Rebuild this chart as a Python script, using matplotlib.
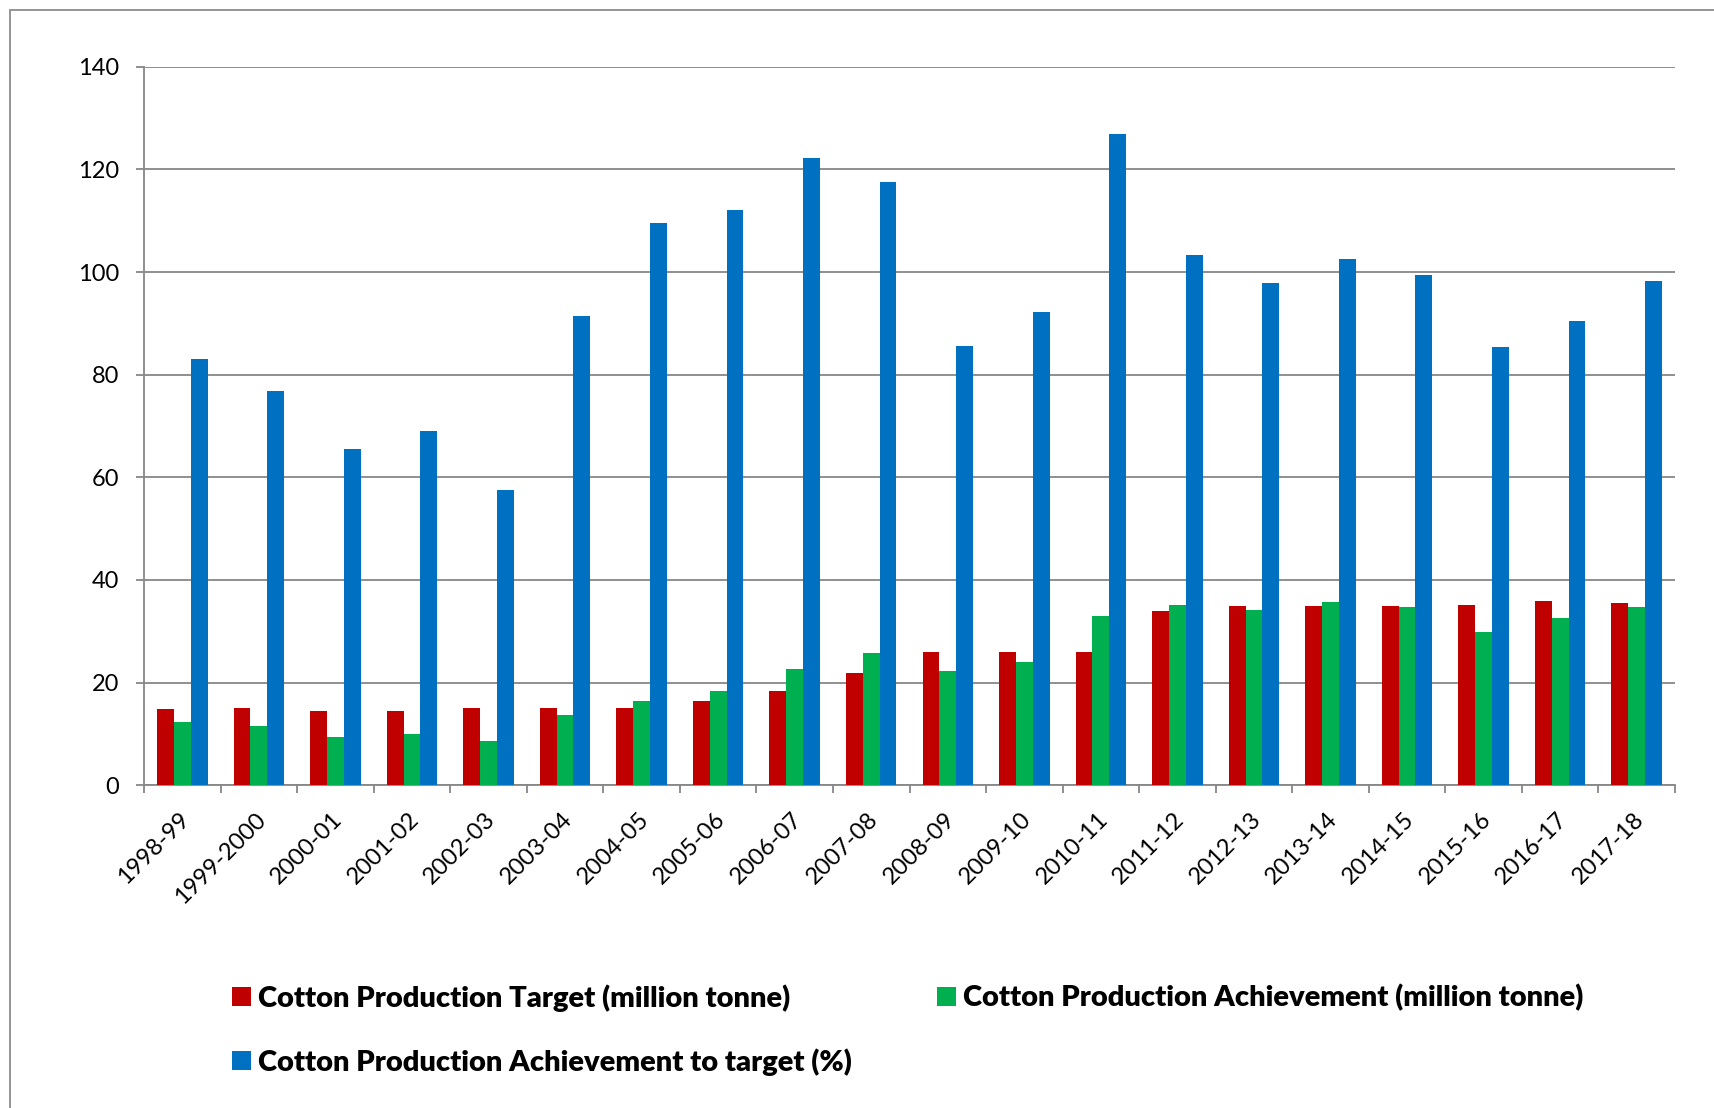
import numpy as np
import matplotlib
matplotlib.use("Agg")
import matplotlib.pyplot as plt
import matplotlib.transforms as mtransforms
from matplotlib.patches import Rectangle

plt.rcParams['font.family'] = ['Lato', 'DejaVu Sans']

seasons = ['1998-99', '1999-2000', '2000-01', '2001-02', '2002-03', '2003-04',
           '2004-05', '2005-06', '2006-07', '2007-08', '2008-09', '2009-10',
           '2010-11', '2011-12', '2012-13', '2013-14', '2014-15', '2015-16',
           '2016-17', '2017-18']
target = [14.8, 15.0, 14.5, 14.5, 15.0, 15.0, 15.0, 16.4, 18.4, 21.9,
          25.9, 25.9, 25.9, 34.0, 34.9, 34.9, 34.9, 35.1, 36.0, 35.5]
achievement = [12.3, 11.6, 9.5, 10.0, 8.6, 13.7, 16.4, 18.4, 22.6, 25.8,
               22.2, 24.0, 32.9, 35.1, 34.1, 35.8, 34.7, 29.9, 32.5, 34.8]
achieved_pct = [83.0, 76.8, 65.6, 69.0, 57.5, 91.5, 109.5, 112.1, 122.3, 117.6,
                85.6, 92.3, 126.9, 103.4, 97.8, 102.5, 99.4, 85.3, 90.5, 98.2]
labels = ['Cotton Production Target (million tonne)',
          'Cotton Production Achievement (million tonne)',
          'Cotton Production Achievement to target (%)']
colors = ['#C00000', '#00B050', '#0070C0']

W, H = 1715, 1108
fig = plt.figure(figsize=(W / 100, H / 100), dpi=100)

# outer chart frame
fig.patches.append(Rectangle((10 / W, -0.1), 1.2, 1 - 10 / H + 0.1,
                             transform=fig.transFigure, fill=False,
                             edgecolor='#8c8c8c', linewidth=1.3))

ax = fig.add_axes([144 / W, 1 - 785.3 / H, (1675 - 144) / W, (785.3 - 66.7) / H])

x = np.arange(len(seasons))
bw = 0.22
bars = []
for i, vals in enumerate([target, achievement, achieved_pct]):
    b = ax.bar(x + (i - 1) * bw, vals, bw, color=colors[i], label=labels[i], zorder=3)
    bars.append(b)

ax.set_xlim(-0.5, len(seasons) - 0.5)
ax.set_ylim(0, 140)
ax.set_yticks(np.arange(0, 141, 20))
ax.grid(axis='y', color='#878787', linewidth=1.3, zorder=0)

for s in ['top', 'right']:
    ax.spines[s].set_visible(False)
for s in ['left', 'bottom']:
    ax.spines[s].set_color('#878787')
    ax.spines[s].set_linewidth(1.3)

ax.tick_params(axis='y', length=5.8, width=1.3, color='#878787', pad=12,
               labelsize=17)
ax.set_xticks(x)
ax.set_xticklabels(seasons, rotation=45, ha='right', va='top', fontsize=17)
ax.tick_params(axis='x', which='major', length=0, pad=17)
ax.set_xticks(np.arange(-0.5, len(seasons), 1), minor=True)
ax.tick_params(axis='x', which='minor', length=5.8, width=1.3, color='#878787')

# nudge the slanted labels to the right, as in the original
shift = mtransforms.ScaledTranslation(8 / 72, 0, fig.dpi_scale_trans)
for t in ax.get_xticklabels():
    t.set_transform(t.get_transform() + shift)

# legend entries placed like the original (two on the first row, one below)
spots = [(232, 998), (937, 998), (232, 1062)]
for b, lab, (px, py) in zip(bars, labels, spots):
    fig.legend(handles=[b], labels=[lab], loc='center left',
               bbox_to_anchor=(px / W, 1 - py / H), frameon=False,
               borderpad=0, borderaxespad=0, handlelength=0.64,
               handleheight=0.64, handletextpad=0.26,
               prop={'weight': 'heavy', 'size': 21})

fig.savefig('out.png', dpi=100)
